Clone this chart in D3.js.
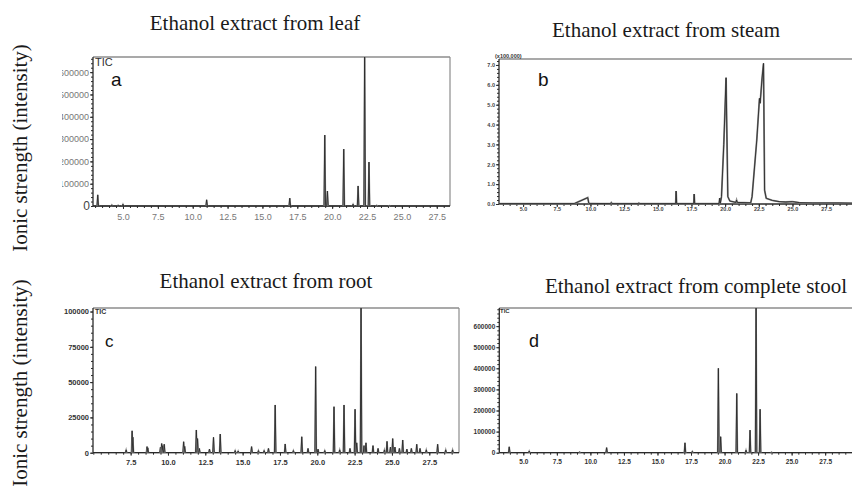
<!DOCTYPE html>
<html><head><meta charset="utf-8">
<script src="https://cdn.jsdelivr.net/npm/d3@7"></script>
<style>html,body{margin:0;padding:0;background:#fff;}svg{display:block;}</style>
</head><body>
<svg id="chart" width="852" height="497"></svg>
<script>
// ---------- DATA ----------
const panelTitles = ["Ethanol extract from leaf", "Ethanol extract from steam", "Ethanol extract from root", "Ethanol extract from complete stool"];
const panelLetters = ["a", "b", "c", "d"];
const yAxisTitle = "Ionic strength (intensity)";
const xTickValues = [5.0, 7.5, 10.0, 12.5, 15.0, 17.5, 20.0, 22.5, 25.0, 27.5];

// (a) leaf: retention time (min) and peak height
const leafRT     = [3.19, 4.2, 4.65, 5.0, 11.0, 16.96, 19.47, 19.66, 20.83, 21.5, 21.86, 22.33, 22.64, 23.2, 24.1];
const leafHeight = [50000, 5000, 4000, 8000, 28000, 35000, 318000, 67000, 255000, 8000, 90000, 700000, 197000, 3000, 2000];
const leafYTicks = [100000, 200000, 300000, 400000, 500000, 600000];

// (b) steam: traced signal (x100,000)
const steamRT    = [3.21, 8.8, 9.8, 9.88, 11.5, 11.55, 11.6, 13.55, 13.6, 13.65, 16.33, 16.36, 16.4, 17.67, 17.7, 17.74, 19.55, 19.6, 19.64, 19.73, 19.9, 20.07, 20.2, 20.35, 20.8, 20.85, 20.9, 21.9, 22.0, 22.35, 22.55, 22.6, 22.73, 22.85, 22.93, 23.05, 23.5, 24.0, 24.5, 25.0, 25.5, 26.5, 28.5, 29.42];
const steamValue = [0.02, 0.02, 0.32, 0.03, 0.02, 0.07, 0.02, 0.02, 0.05, 0.02, 0.02, 0.65, 0.02, 0.02, 0.5, 0.02, 0.02, 0.3, 0.03, 0.37, 3.0, 6.36, 0.37, 0.15, 0.08, 0.2, 0.08, 0.06, 0.37, 3.22, 5.32, 5.07, 6.24, 7.08, 0.7, 0.29, 0.18, 0.12, 0.1, 0.12, 0.07, 0.05, 0.05, 0.04];
const steamYTicks = [0.0, 1.0, 2.0, 3.0, 4.0, 5.0, 6.0, 7.0];

// (c) root
const rootRT     = [7.2, 7.6, 7.65, 8.6, 8.65, 9.5, 9.58, 9.65, 9.75, 11.05, 11.12, 11.9, 11.98, 12.1, 12.78, 13.05, 13.5, 14.5, 14.7, 15.6, 16.06, 16.44, 16.73, 17.18, 17.85, 18.4, 18.96, 19.38, 19.89, 20.05, 20.5, 21.12, 21.5, 21.79, 22.19, 22.53, 22.64, 22.93, 23.13, 23.26, 23.73, 24.07, 24.5, 24.67, 24.9, 25.05, 25.2, 25.5, 25.72, 26.0, 26.3, 26.66, 26.88, 27.3, 28.06, 28.6, 29.06];
const rootHeight = [2000, 15500, 11000, 4300, 3500, 4000, 6500, 5000, 6000, 7800, 4500, 16100, 10000, 3000, 2500, 10900, 13200, 1500, 1200, 4300, 1500, 1500, 3000, 33800, 6200, 1500, 11300, 3000, 61000, 2500, 1500, 32600, 2000, 33800, 3000, 30800, 7000, 104000, 5000, 7000, 5000, 3000, 2000, 8000, 4000, 10000, 4000, 3000, 9000, 2500, 3000, 6000, 3000, 2000, 6000, 2000, 2000];
const rootYTicks = [0, 25000, 50000, 75000, 100000];

// (d) complete stool
const stoolRT     = [3.95, 5.44, 9.2, 11.21, 17.05, 17.6, 19.54, 19.71, 20.91, 21.6, 21.9, 22.35, 22.65, 23.5];
const stoolHeight = [28000, 8000, 3000, 24000, 47000, 6000, 400000, 76000, 281000, 12000, 107000, 720000, 206000, 2000];
const stoolYTicks = [0, 100000, 200000, 300000, 400000, 500000, 600000];

// ---------- LAYOUT ----------
const svg = d3.select("#chart");
const defs = svg.append("defs");
const ink = "#2a2a2a";
const frameGray = "#8c8c8c";

const layouts = [
  {key:"a", xDomain:[2.85, 28.45], yMax:668000, left:93, right:450, top:57, bottom:206, rightBorder:true,
   rt:leafRT, h:leafHeight, yTicks:leafYTicks, yFmt:d3.format("d"), labelFont:"9px", labelWeight:"normal", labelFill:"#777", halfW:0.055,
   title:{x:255, y:30}, letter:{x:111, y:86, size:19}, tic:{x:95, y:66, size:11, w:"normal"}, clipLabels:62, xLabelY:218, yTickMinor:20000},
  {key:"b", xDomain:[3.21, 29.42], yMax:7.3, left:499, right:852, top:59, bottom:204, rightBorder:false,
   profileX:steamRT, profileY:steamValue, yTicks:steamYTicks, yFmt:d3.format(".1f"), labelFont:"5.5px", labelWeight:"bold", labelFill:"#444",
   title:{x:666, y:37}, letter:{x:538, y:86, size:19}, xLabelY:211, yTickMinor:0.2},
  {key:"c", xDomain:[4.98, 29.49], yMax:102500, left:93, right:459, top:308, bottom:452.7, rightBorder:true,
   rt:rootRT, h:rootHeight, yTicks:rootYTicks, yFmt:d3.format("d"), labelFont:"7.5px", labelWeight:"bold", labelFill:"#333", halfW:0.05,
   title:{x:266, y:288}, letter:{x:105, y:347, size:17}, tic:{x:95, y:314, size:7, w:"bold"}, xLabelY:464, yTickMinor:5000},
  {key:"d", xDomain:[3.21, 29.5], yMax:686000, left:499.3, right:852, top:308, bottom:452.7, rightBorder:false,
   rt:stoolRT, h:stoolHeight, yTicks:stoolYTicks, yFmt:d3.format("d"), labelFont:"6.5px", labelWeight:"bold", labelFill:"#333", halfW:0.055,
   title:{x:696, y:293}, letter:{x:529, y:347, size:18}, tic:{x:500, y:313, size:6, w:"bold"}, xLabelY:463, yTickMinor:20000}
];

layouts.forEach((L, i) => {
  const g = svg.append("g");
  const x = d3.scaleLinear().domain(L.xDomain).range([L.left, L.right]);
  const y = d3.scaleLinear().domain([0, L.yMax]).range([L.bottom, L.top]);

  const clipId = "clip-" + L.key;
  defs.append("clipPath").attr("id", clipId).append("rect")
    .attr("x", L.left).attr("y", L.top).attr("width", L.right - L.left).attr("height", L.bottom - L.top + 1);

  // Title
  svg.append("text").attr("x", L.title.x).attr("y", L.title.y).attr("text-anchor", "middle")
    .attr("font-family", "Liberation Serif, Times New Roman, serif").attr("font-size", 21).attr("fill", "#1a1a1a")
    .text(panelTitles[i]);

  // Frame: top line and (optionally) right border
  g.append("line").attr("x1", L.left).attr("x2", L.right).attr("y1", L.top).attr("y2", L.top)
    .attr("stroke", frameGray).attr("stroke-width", 1.4);
  if (L.rightBorder) {
    g.append("line").attr("x1", L.right).attr("x2", L.right).attr("y1", L.top).attr("y2", L.bottom)
      .attr("stroke", frameGray).attr("stroke-width", 1.2);
  }

  // X axis (major ticks with labels, minor ticks)
  const xMinor = d3.range(Math.ceil(L.xDomain[0] * 2) / 2, L.xDomain[1], 0.5);
  const xAxisMinor = d3.axisBottom(x).tickValues(xMinor).tickSize(2).tickFormat("");
  const gxm = g.append("g").attr("transform", `translate(0,${L.bottom})`).call(xAxisMinor);
  gxm.select(".domain").remove();
  gxm.selectAll("line").attr("stroke", ink);
  const shownTicks = xTickValues.filter(v => v > L.xDomain[0] + 0.3 && v < L.xDomain[1] - 0.3);
  const xAxis = d3.axisBottom(x).tickValues(shownTicks).tickSize(3).tickPadding(L.xLabelY - L.bottom - 7).tickFormat(d3.format(".1f"));
  const gx = g.append("g").attr("transform", `translate(0,${L.bottom})`).call(xAxis);
  gx.select(".domain").attr("stroke", ink).attr("stroke-width", 1.3).attr("d", `M${L.left},0H${L.right}`);
  gx.selectAll("line").attr("stroke", ink);
  gx.selectAll("text").attr("font-family", "Liberation Sans, Arial, sans-serif")
    .attr("font-size", L.labelFont).attr("font-weight", L.labelWeight).attr("fill", L.labelFill);

  // Y axis
  const yMinor = d3.range(0, L.yMax, L.yTickMinor);
  const gym = g.append("g").attr("transform", `translate(${L.left},0)`).call(d3.axisLeft(y).tickValues(yMinor).tickSize(2).tickFormat(""));
  gym.select(".domain").remove();
  gym.selectAll("line").attr("stroke", ink);
  const gy = g.append("g").attr("transform", `translate(${L.left},0)`)
    .call(d3.axisLeft(y).tickValues(L.yTicks).tickSize(3).tickPadding(1).tickFormat(L.yFmt));
  gy.select(".domain").attr("stroke", ink).attr("stroke-width", 1.3).attr("d", `M0,${L.top}V${L.bottom}`);
  gy.selectAll("line").attr("stroke", ink);
  gy.selectAll("text").attr("font-family", "Liberation Sans, Arial, sans-serif")
    .attr("font-size", L.labelFont).attr("font-weight", L.labelWeight).attr("fill", L.labelFill);
  if (L.clipLabels) {
    const lc = "lclip-" + L.key;
    defs.append("clipPath").attr("id", lc).append("rect")
      .attr("x", L.clipLabels - L.left).attr("y", L.top - 10).attr("width", 200).attr("height", L.bottom - L.top + 40);
    gy.attr("clip-path", `url(#${lc})`);
    // the big baseline "0"
    g.append("text").attr("x", L.left - 3).attr("y", L.bottom + 4).attr("text-anchor", "end")
      .attr("font-family", "Liberation Sans, Arial, sans-serif").attr("font-size", 12).attr("fill", "#444").text("0");
  }

  // Signal
  const plot = g.append("g").attr("clip-path", `url(#${clipId})`);
  const line = d3.line().x(d => x(d[0])).y(d => y(d[1]));
  if (L.rt) {
    plot.append("path").attr("d", line([[L.xDomain[0], 0], [L.xDomain[1], 0]]))
      .attr("stroke", ink).attr("stroke-width", 1).attr("fill", "none");
    L.rt.forEach((t, k) => {
      const pts = [[t - L.halfW, 0], [t, L.h[k]], [t + L.halfW, 0]];
      plot.append("path").attr("d", line(pts))
        .attr("stroke", "#9a9a9a").attr("stroke-width", 1.6).attr("fill", "none");
      plot.append("path").attr("d", line(pts))
        .attr("stroke", ink).attr("stroke-width", 0.9).attr("fill", "none");
    });
  } else {
    const pts = L.profileX.map((t, k) => [t, L.profileY[k]]);
    plot.append("path").attr("d", line(pts)).attr("stroke", "#8a8a8a").attr("stroke-width", 1.8).attr("fill", "none");
    plot.append("path").attr("d", line(pts)).attr("stroke", ink).attr("stroke-width", 0.9).attr("fill", "none");
  }

  // Panel letter
  svg.append("text").attr("x", L.letter.x).attr("y", L.letter.y)
    .attr("font-family", "Liberation Sans, Arial, sans-serif").attr("font-size", L.letter.size).attr("fill", "#111")
    .text(panelLetters[i]);
  if (L.tic) {
    svg.append("text").attr("x", L.tic.x).attr("y", L.tic.y)
      .attr("font-family", "Liberation Sans, Arial, sans-serif").attr("font-size", L.tic.size)
      .attr("font-weight", L.tic.w).attr("fill", "#333").text("TIC");
  }
  if (L.key === "b") {
    svg.append("text").attr("x", L.left - 4).attr("y", L.top - 1)
      .attr("font-family", "Liberation Sans, Arial, sans-serif").attr("font-size", 5.5)
      .attr("font-weight", "bold").attr("fill", "#333").text("(x100,000)");
  }
});

// Y axis titles
[148, 383].forEach(cy => {
  svg.append("text").attr("transform", `translate(27,${cy}) rotate(-90)`).attr("text-anchor", "middle")
    .attr("font-family", "Liberation Serif, Times New Roman, serif").attr("font-size", 21).attr("fill", "#1a1a1a")
    .text(yAxisTitle);
});
</script>
</body></html>
